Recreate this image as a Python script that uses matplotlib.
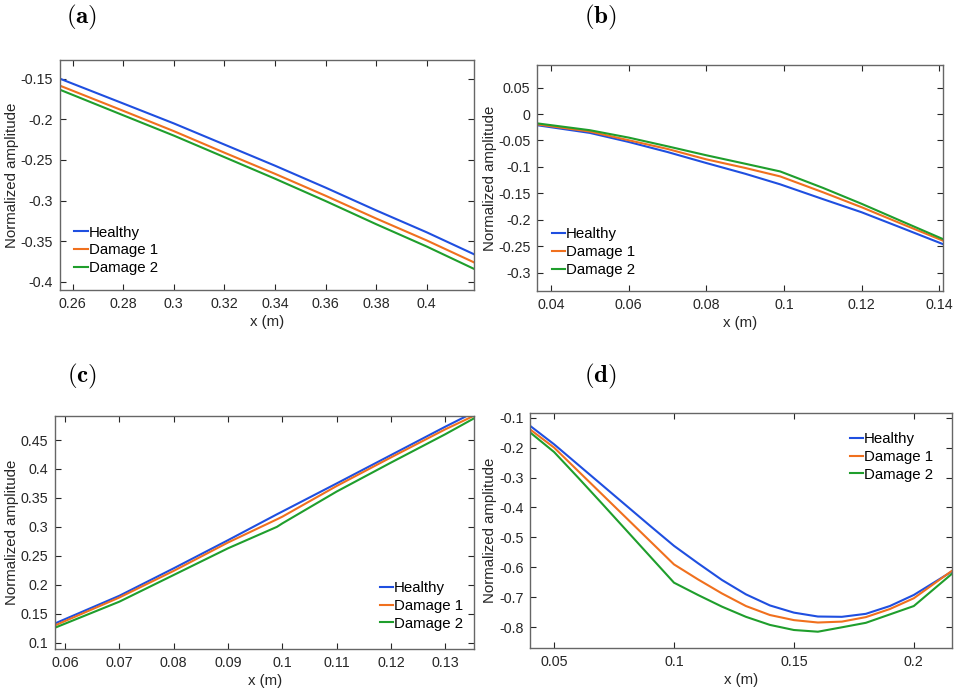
import matplotlib
matplotlib.use("Agg")
import matplotlib.pyplot as plt

plt.rcParams["font.family"] = ["Liberation Sans", "DejaVu Sans"]
plt.rcParams["mathtext.fontset"] = "cm"

labels = ["Healthy", "Damage 1", "Damage 2"]
colors = ["#1f4fe0", "#f0701e", "#1f9e2c"]

# (a)
xa = [0.255, 0.28, 0.30, 0.32, 0.34, 0.36, 0.38, 0.40, 0.4187]
ya_healthy = [-0.150, -0.1805, -0.205, -0.231, -0.257, -0.284, -0.312, -0.339, -0.366]
ya_dmg1 = [-0.1586, -0.1895, -0.2145, -0.241, -0.267, -0.294, -0.322, -0.349, -0.376]
ya_dmg2 = [-0.1636, -0.195, -0.220, -0.2465, -0.273, -0.3005, -0.329, -0.3565, -0.384]

# (b)
xb = [0.0364, 0.05, 0.06, 0.07, 0.08, 0.09, 0.099, 0.11, 0.12, 0.13, 0.141]
yb_healthy = [-0.021, -0.0356, -0.0527, -0.0718, -0.0927, -0.113, -0.133, -0.161, -0.186, -0.2147, -0.2465]
yb_dmg1 = [-0.0194, -0.033, -0.0495, -0.066, -0.0857, -0.102, -0.118, -0.148, -0.1765, -0.207, -0.240]
yb_dmg2 = [-0.0175, -0.0305, -0.0445, -0.061, -0.078, -0.094, -0.1086, -0.1397, -0.170, -0.202, -0.237]

# (c)
xc = [0.0582, 0.07, 0.08, 0.09, 0.099, 0.1, 0.11, 0.12, 0.13, 0.1353]
yc_healthy = [0.1334, 0.181, 0.2284, 0.277, 0.3217, 0.3265, 0.375, 0.424, 0.473, 0.498]
yc_dmg1 = [0.130, 0.178, 0.224, 0.273, 0.313, 0.3176, 0.3706, 0.420, 0.4685, 0.492]
yc_dmg2 = [0.126, 0.1708, 0.2169, 0.263, 0.300, 0.306, 0.361, 0.411, 0.460, 0.4875]

# (d)
xd = [0.0401, 0.05, 0.06, 0.07, 0.08, 0.09, 0.10, 0.11, 0.12, 0.13, 0.14,
      0.15, 0.16, 0.17, 0.18, 0.19, 0.20, 0.2158]
yd_healthy = [-0.128, -0.189, -0.257, -0.325, -0.393, -0.461, -0.528, -0.586, -0.642,
              -0.690, -0.727, -0.751, -0.764, -0.765, -0.755, -0.729, -0.692, -0.614]
yd_dmg1 = [-0.140, -0.200, -0.278, -0.356, -0.434, -0.512, -0.590, -0.640, -0.687,
           -0.729, -0.759, -0.776, -0.784, -0.781, -0.766, -0.739, -0.703, -0.612]
yd_dmg2 = [-0.150, -0.2147, -0.300, -0.387, -0.475, -0.563, -0.651, -0.692, -0.731,
           -0.765, -0.792, -0.809, -0.8147, -0.800, -0.785, -0.757, -0.729, -0.622]

panels = [
    dict(tag="(a)", x=xa, ys=[ya_healthy, ya_dmg1, ya_dmg2],
         rect=[0.0626, 0.5845, 0.4317, 0.3295], xlim=(0.255, 0.4187), ylim=(-0.41, -0.127),
         xticks=[0.26, 0.28, 0.3, 0.32, 0.34, 0.36, 0.38, 0.4],
         xticklabels=["0.26", "0.28", "0.3", "0.32", "0.34", "0.36", "0.38", "0.4"],
         yticks=[-0.4, -0.35, -0.3, -0.25, -0.2, -0.15],
         yticklabels=["-0.4", "-0.35", "-0.3", "-0.25", "-0.2", "-0.15"],
         leg=(0.0345, 0.28), tagpos=(0.0855, 0.975)),
    dict(tag="(b)", x=xb, ys=[yb_healthy, yb_dmg1, yb_dmg2],
         rect=[0.5603, 0.5831, 0.4234, 0.3238], xlim=(0.0365, 0.141), ylim=(-0.335, 0.093),
         xticks=[0.04, 0.06, 0.08, 0.1, 0.12, 0.14],
         xticklabels=["0.04", "0.06", "0.08", "0.1", "0.12", "0.14"],
         yticks=[-0.3, -0.25, -0.2, -0.15, -0.1, -0.05, 0, 0.05],
         yticklabels=["-0.3", "-0.25", "-0.2", "-0.15", "-0.1", "-0.05", "0", "0.05"],
         leg=(0.036, 0.282), tagpos=(0.6265, 0.975)),
    dict(tag="(c)", x=xc, ys=[yc_healthy, yc_dmg1, yc_dmg2],
         rect=[0.0577, 0.0702, 0.4366, 0.3342], xlim=(0.0582, 0.1353), ylim=(0.089, 0.492),
         xticks=[0.06, 0.07, 0.08, 0.09, 0.1, 0.11, 0.12, 0.13],
         xticklabels=["0.06", "0.07", "0.08", "0.09", "0.1", "0.11", "0.12", "0.13"],
         yticks=[0.1, 0.15, 0.2, 0.25, 0.3, 0.35, 0.4, 0.45],
         yticklabels=["0.1", "0.15", "0.2", "0.25", "0.3", "0.35", "0.4", "0.45"],
         leg=(0.7745, 0.291), tagpos=(0.0855, 0.461)),
    dict(tag="(d)", x=xd, ys=[yd_healthy, yd_dmg1, yd_dmg2],
         rect=[0.553, 0.0721, 0.4394, 0.3358], xlim=(0.0401, 0.2158), ylim=(-0.868, -0.0855),
         xticks=[0.05, 0.1, 0.15, 0.2],
         xticklabels=["0.05", "0.1", "0.15", "0.2"],
         yticks=[-0.8, -0.7, -0.6, -0.5, -0.4, -0.3, -0.2, -0.1],
         yticklabels=["-0.8", "-0.7", "-0.6", "-0.5", "-0.4", "-0.3", "-0.2", "-0.1"],
         leg=(0.7575, 0.92), tagpos=(0.6265, 0.461)),
]

fig = plt.figure(figsize=(9.59, 6.98), dpi=100)

for p in panels:
    ax = fig.add_axes(p["rect"])
    for y, lab, c in zip(p["ys"], labels, colors):
        ax.plot(p["x"], y, color=c, lw=1.5, label=lab)
    ax.set_xlim(*p["xlim"])
    ax.set_ylim(*p["ylim"])
    ax.set_xticks(p["xticks"])
    ax.set_xticklabels(p["xticklabels"])
    ax.set_yticks(p["yticks"])
    ax.set_yticklabels(p["yticklabels"])
    ax.tick_params(direction="in", length=4.5, width=0.8, colors="#262626",
                   labelsize=10.3, top=True, right=True, pad=5)
    for s in ax.spines.values():
        s.set_color("#666666")
        s.set_linewidth(1.0)
    ax.set_xlabel("x (m)", fontsize=10.8, color="#262626", labelpad=3)
    ax.set_ylabel("Normalized amplitude", fontsize=10.8, color="#262626", labelpad=1)
    ax.legend(loc="upper left", bbox_to_anchor=p["leg"], frameon=False, fontsize=10.8,
              handlelength=0.9, handletextpad=0.05, labelspacing=0.25,
              borderpad=0, borderaxespad=0)
    fig.text(p["tagpos"][0], p["tagpos"][1], r"$\mathbf{" + p["tag"] + "}$",
             fontsize=18, ha="center", va="center")

fig.savefig("out.png", dpi=100)
